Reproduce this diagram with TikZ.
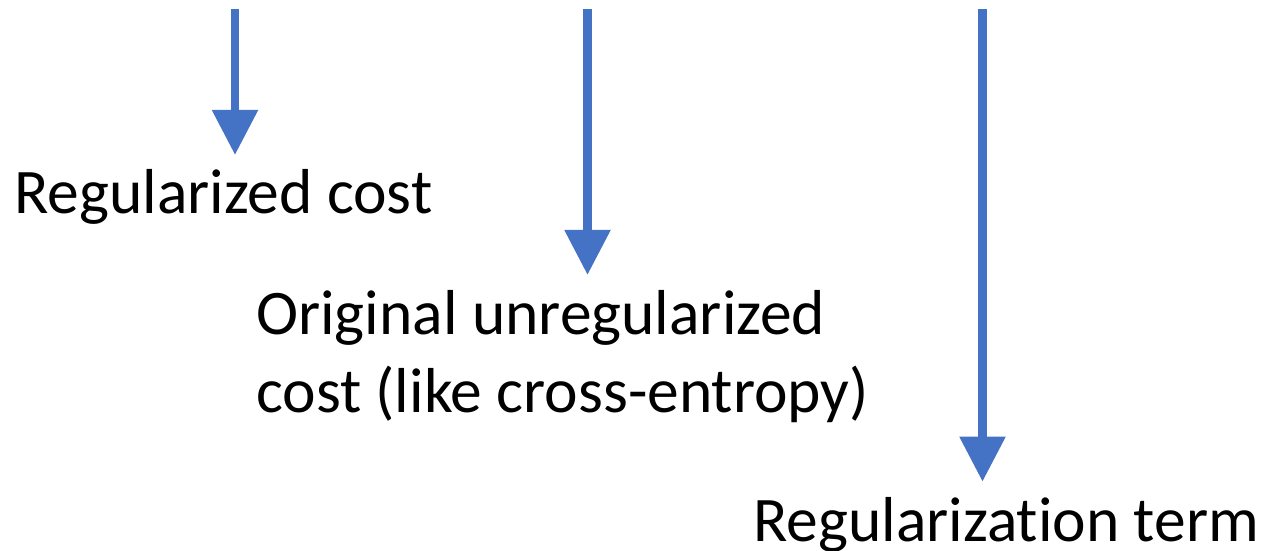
\documentclass[tikz,border=0pt]{standalone}
\usepackage{fontspec}
\setmainfont[Ligatures={NoCommon}]{Carlito}
\usetikzlibrary{arrows.meta}
\definecolor{officeblue}{HTML}{4472C4}
\tikzset{
  bluearrow/.style={draw=officeblue, line width=8.6pt,
    -{Triangle[length=45pt 0 0, width=44pt 0 0, fill=officeblue]}},
  lbl/.style={inner sep=0pt, anchor=base west, align=left,
    font=\fontsize{63.5}{78.5}\selectfont, text=black}
}
\begin{document}
\begin{tikzpicture}[x=1pt,y=1pt]
\useasboundingbox (0,0) rectangle (1263,551);
\coordinate (s1) at (235,542.3);
\coordinate (t1) at (235,396);
\coordinate (s2) at (587.5,542.3);
\coordinate (t2) at (587.5,276);
\coordinate (s3) at (982.5,542.3);
\coordinate (t3) at (982.5,69.3);
\draw[bluearrow] (s1) -- (t1);
\draw[bluearrow] (s2) -- (t2);
\draw[bluearrow] (s3) -- (t3);
\node[lbl] (l1) at (14,337) {Regularized cost};
\node[lbl] (l2) at (256,138) {Original unregularized\\cost (like cross-entropy)};
\node[lbl] (l3) at (753,9) {Regularization term};
\end{tikzpicture}
\end{document}
